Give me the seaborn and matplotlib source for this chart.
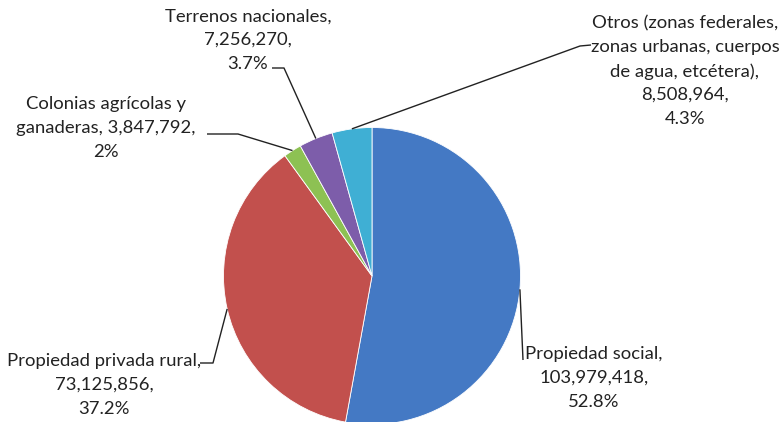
import numpy as np
import matplotlib
matplotlib.use("Agg")
import matplotlib.pyplot as plt
import seaborn as sns

# ---- data ----
categories = [
    "Propiedad social",
    "Propiedad privada rural",
    "Colonias agrícolas y ganaderas",
    "Terrenos nacionales",
    "Otros (zonas federales, zonas urbanas, cuerpos de agua, etcétera)",
]
values = [103979418, 73125856, 3847792, 7256270, 8508964]
percent_labels = ["52.8%", "37.2%", "2%", "3.7%", "4.3%"]
label_heads = [
    "Propiedad social,",
    "Propiedad privada rural,",
    "Colonias agrícolas y\nganaderas, {v},",
    "Terrenos nacionales,",
    "Otros (zonas federales,\nzonas urbanas, cuerpos\nde agua, etcétera),",
]
colors = ["#4479C4", "#C2504D", "#8DC153", "#7D5DAA", "#3FAFD4"]

sns.set_theme(style="white")
plt.rcParams["font.family"] = ["Lato", "DejaVu Sans"]

W, H = 781, 422
fig = plt.figure(figsize=(W / 100, H / 100), dpi=100)
ax = fig.add_axes([0, 0, 1, 1])

cx, cy, R = 372, H - 276, 148.5
wedges, _ = ax.pie(values, colors=colors, startangle=90, counterclock=False,
                   center=(cx, cy), radius=R, frame=True,
                   wedgeprops=dict(edgecolor="white", linewidth=0.6))
ax.set_xlim(0, W)
ax.set_ylim(0, H)
ax.set_aspect("equal")
ax.axis("off")

def fmt(i):
    v = f"{values[i]:,}"
    head = label_heads[i].format(v=v)
    if "{v}" in label_heads[i]:
        return f"{head}\n{percent_labels[i]}"
    return f"{head}\n{v},\n{percent_labels[i]}"

# text centers in pixel coordinates (x, y-from-top)
text_pos = [(594, 378), (104, 385), (106, 128), (248, 40), (685, 71)]
# leader polylines: points near text (pixel coords) before the wedge point
leader_start = [
    [(523, 360)],
    [(200, 363), (213, 363)],
    [(207, 134), (238, 134)],
    [(272, 68), (284, 68)],
    [(591, 45), (580, 46)],
]

for i, w in enumerate(wedges):
    tx, ty = text_pos[i]
    ax.text(tx, H - ty, fmt(i), ha="center", va="center", fontsize=13.3,
            linespacing=1.58, color="#222222")
    mid = np.deg2rad((w.theta1 + w.theta2) / 2)
    px, py = cx + R * np.cos(mid), cy + R * np.sin(mid)
    pts = [(x, H - y) for x, y in leader_start[i]] + [(px, py)]
    xs, ys = zip(*pts)
    ax.plot(xs, ys, color="#222222", lw=1.0, solid_capstyle="butt")

fig.savefig("out.png", dpi=100, facecolor="white")
